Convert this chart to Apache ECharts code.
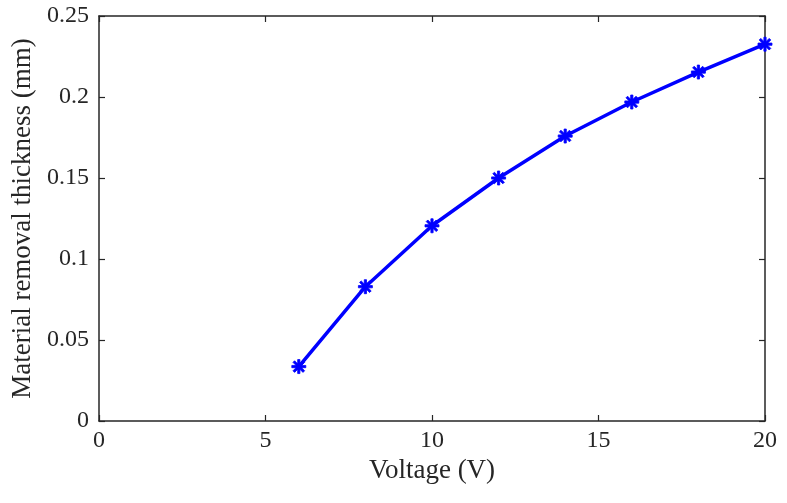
<!DOCTYPE html>
<html>
<head>
<meta charset="utf-8">
<script src="https://cdn.jsdelivr.net/npm/echarts@6/dist/echarts.min.js"></script>
<style>html,body{margin:0;padding:0;background:#fff}#c{width:787px;height:503px}</style>
</head>
<body>
<div id="c"></div>
<script>
const voltage = [6, 8, 10, 12, 14, 16, 18, 20];
const thickness = [0.0336, 0.0829, 0.1205, 0.1500, 0.1759, 0.1969, 0.2154, 0.2326];
const xTitle = 'Voltage (V)';
const yTitle = 'Material removal thickness (mm)';

const font = 'Liberation Serif, Times New Roman, serif';
const axisCol = '#262626';
const asterisk = 'path://M8.4,0H11.6V20H8.4Z M0,8.4H20V11.6H0Z M1.7,4L4,1.7L18.3,16L16,18.3Z M16,1.7L18.3,4L4,18.3L1.7,16Z';

const chart = echarts.init(document.getElementById('c'), null, {renderer: 'canvas'});
const baseX = {
  type: 'value', min: 0, max: 20, interval: 5,
  axisLine: {show: true, onZero: false, lineStyle: {color: axisCol, width: 1.5}},
  axisTick: {show: true, inside: true, length: 6, lineStyle: {color: axisCol, width: 1.2}},
  splitLine: {show: false}
};
const baseY = {
  type: 'value', min: 0, max: 0.25, interval: 0.05,
  axisLine: {show: true, onZero: false, lineStyle: {color: axisCol, width: 1.5}},
  axisTick: {show: true, inside: true, length: 6, lineStyle: {color: axisCol, width: 1.2}},
  splitLine: {show: false}
};
chart.setOption({
  animation: false,
  backgroundColor: '#fff',
  grid: {left: 99, right: 22, top: 16, bottom: 82, containLabel: false},
  xAxis: [
    Object.assign({}, baseX, {
      position: 'bottom',
      name: xTitle, nameLocation: 'middle', nameGap: 35,
      nameTextStyle: {fontFamily: font, fontSize: 27, color: axisCol},
      axisLabel: {fontFamily: font, fontSize: 24, color: axisCol, margin: 8}
    }),
    Object.assign({}, baseX, {position: 'top', axisLabel: {show: false}})
  ],
  yAxis: [
    Object.assign({}, baseY, {
      position: 'left',
      name: yTitle, nameLocation: 'middle', nameGap: 61,
      nameTextStyle: {fontFamily: font, fontSize: 27, color: axisCol},
      axisLabel: {fontFamily: font, fontSize: 24, color: axisCol, margin: 10,
        formatter: v => String(+v.toFixed(2))}
    }),
    Object.assign({}, baseY, {position: 'right', axisLabel: {show: false}})
  ],
  series: [{
    type: 'line',
    data: voltage.map((v, i) => [v, thickness[i]]),
    xAxisIndex: 0, yAxisIndex: 0,
    lineStyle: {color: '#0000ff', width: 3.5},
    itemStyle: {color: '#0000ff', borderColor: '#0000ff', borderWidth: 0.8},
    symbol: asterisk,
    symbolSize: 14,
    showSymbol: true,
    clip: false
  }]
});
</script>
</body>
</html>
